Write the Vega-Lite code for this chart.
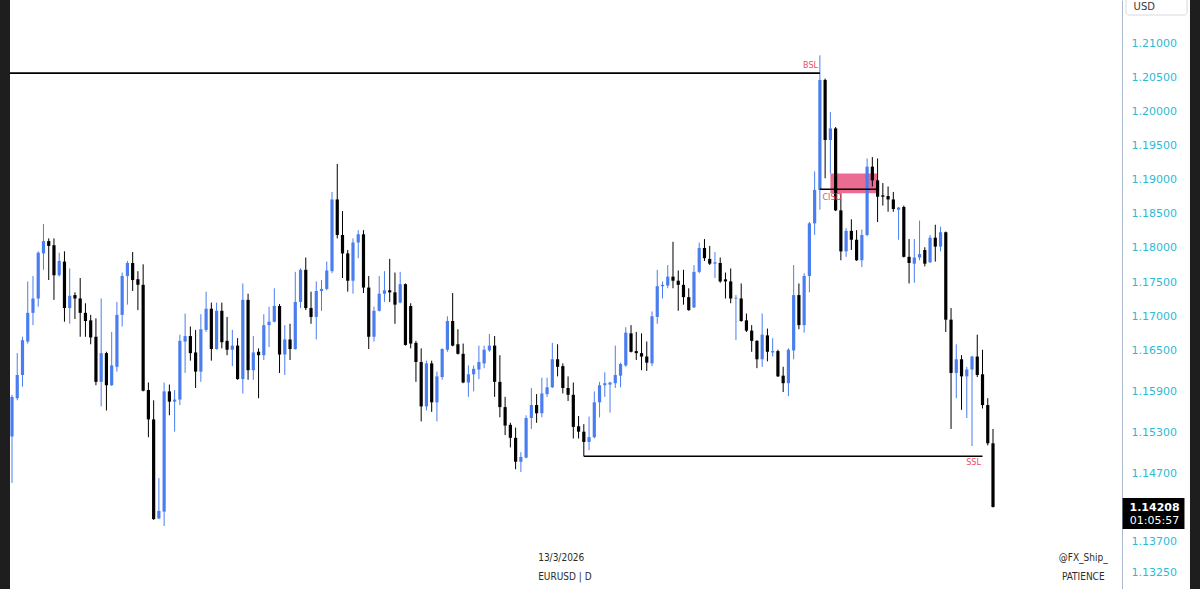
{
  "$schema": "https://vega.github.io/schema/vega-lite/v6.json",
  "width": 1112,
  "height": 589,
  "autosize": {"type": "none"},
  "padding": {"left": 10, "right": 78, "top": 0, "bottom": 0},
  "background": "#ffffff",
  "config": {"view": {"fill": "#ffffff", "stroke": null}},
  "datasets": {
    "candles": [
      {"d":0,"o":1.1524,"h":1.1585,"l":1.1456,"c":1.1582},
      {"d":1,"o":1.1580,"h":1.1646,"l":1.1577,"c":1.1614},
      {"d":2,"o":1.1614,"h":1.1670,"l":1.1597,"c":1.1665},
      {"d":3,"o":1.1663,"h":1.1751,"l":1.1660,"c":1.1705},
      {"d":4,"o":1.1705,"h":1.1759,"l":1.1687,"c":1.1726},
      {"d":5,"o":1.1726,"h":1.1795,"l":1.1714,"c":1.1793},
      {"d":6,"o":1.1792,"h":1.1835,"l":1.1768,"c":1.1810},
      {"d":7,"o":1.1810,"h":1.1814,"l":1.1753,"c":1.1803},
      {"d":8,"o":1.1804,"h":1.1814,"l":1.1724,"c":1.1760},
      {"d":9,"o":1.1760,"h":1.1793,"l":1.1758,"c":1.1781},
      {"d":10,"o":1.1780,"h":1.1795,"l":1.1692,"c":1.1712},
      {"d":11,"o":1.1712,"h":1.1770,"l":1.1689,"c":1.1730},
      {"d":12,"o":1.1731,"h":1.1735,"l":1.1696,"c":1.1726},
      {"d":13,"o":1.1726,"h":1.1756,"l":1.1670,"c":1.1705},
      {"d":14,"o":1.1705,"h":1.1719,"l":1.1670,"c":1.1693},
      {"d":15,"o":1.1694,"h":1.1702,"l":1.1659,"c":1.1669},
      {"d":16,"o":1.1670,"h":1.1697,"l":1.1599,"c":1.1604},
      {"d":17,"o":1.1604,"h":1.1726,"l":1.1568,"c":1.1646},
      {"d":18,"o":1.1646,"h":1.1648,"l":1.1562,"c":1.1599},
      {"d":19,"o":1.1599,"h":1.1677,"l":1.1598,"c":1.1628},
      {"d":20,"o":1.1626,"h":1.1721,"l":1.1619,"c":1.1702},
      {"d":21,"o":1.1702,"h":1.1764,"l":1.1685,"c":1.1759},
      {"d":22,"o":1.1759,"h":1.1781,"l":1.1717,"c":1.1778},
      {"d":23,"o":1.1778,"h":1.1794,"l":1.1737,"c":1.1753},
      {"d":24,"o":1.1754,"h":1.1766,"l":1.1709,"c":1.1746},
      {"d":25,"o":1.1746,"h":1.1776,"l":1.1590,"c":1.1591},
      {"d":26,"o":1.1592,"h":1.1603,"l":1.1523,"c":1.1549},
      {"d":27,"o":1.1549,"h":1.1577,"l":1.1402,"c":1.1403},
      {"d":28,"o":1.1404,"h":1.1463,"l":1.1403,"c":1.1415},
      {"d":29,"o":1.1414,"h":1.1603,"l":1.1393,"c":1.1590},
      {"d":30,"o":1.1590,"h":1.1600,"l":1.1555,"c":1.1575},
      {"d":31,"o":1.1575,"h":1.1592,"l":1.1531,"c":1.1578},
      {"d":32,"o":1.1578,"h":1.1673,"l":1.1570,"c":1.1664},
      {"d":33,"o":1.1663,"h":1.1704,"l":1.1617,"c":1.1671},
      {"d":34,"o":1.1671,"h":1.1685,"l":1.1635,"c":1.1646},
      {"d":35,"o":1.1647,"h":1.1680,"l":1.1595,"c":1.1619},
      {"d":36,"o":1.1619,"h":1.1703,"l":1.1604,"c":1.1681},
      {"d":37,"o":1.1680,"h":1.1736,"l":1.1677,"c":1.1711},
      {"d":38,"o":1.1711,"h":1.1720,"l":1.1635,"c":1.1652},
      {"d":39,"o":1.1652,"h":1.1720,"l":1.1651,"c":1.1708},
      {"d":40,"o":1.1708,"h":1.1720,"l":1.1653,"c":1.1662},
      {"d":41,"o":1.1664,"h":1.1699,"l":1.1643,"c":1.1651},
      {"d":42,"o":1.1651,"h":1.1680,"l":1.1627,"c":1.1657},
      {"d":43,"o":1.1657,"h":1.1668,"l":1.1607,"c":1.1608},
      {"d":44,"o":1.1608,"h":1.1748,"l":1.1587,"c":1.1724},
      {"d":45,"o":1.1724,"h":1.1733,"l":1.1607,"c":1.1621},
      {"d":46,"o":1.1621,"h":1.1671,"l":1.1607,"c":1.1647},
      {"d":47,"o":1.1648,"h":1.1653,"l":1.1580,"c":1.1643},
      {"d":48,"o":1.1643,"h":1.1703,"l":1.1636,"c":1.1687},
      {"d":49,"o":1.1687,"h":1.1714,"l":1.1655,"c":1.1692},
      {"d":50,"o":1.1692,"h":1.1741,"l":1.1691,"c":1.1715},
      {"d":51,"o":1.1715,"h":1.1718,"l":1.1617,"c":1.1644},
      {"d":52,"o":1.1644,"h":1.1687,"l":1.1614,"c":1.1666},
      {"d":53,"o":1.1666,"h":1.1689,"l":1.1636,"c":1.1652},
      {"d":54,"o":1.1652,"h":1.1765,"l":1.1651,"c":1.1721},
      {"d":55,"o":1.1721,"h":1.1770,"l":1.1712,"c":1.1768},
      {"d":56,"o":1.1768,"h":1.1786,"l":1.1709,"c":1.1712},
      {"d":57,"o":1.1712,"h":1.1736,"l":1.1689,"c":1.1699},
      {"d":58,"o":1.1699,"h":1.1751,"l":1.1666,"c":1.1737},
      {"d":59,"o":1.1737,"h":1.1753,"l":1.1708,"c":1.1740},
      {"d":60,"o":1.1740,"h":1.1780,"l":1.1738,"c":1.1767},
      {"d":61,"o":1.1766,"h":1.1882,"l":1.1763,"c":1.1871},
      {"d":62,"o":1.1871,"h":1.1923,"l":1.1814,"c":1.1819},
      {"d":63,"o":1.1819,"h":1.1854,"l":1.1756,"c":1.1792},
      {"d":64,"o":1.1792,"h":1.1797,"l":1.1736,"c":1.1752},
      {"d":65,"o":1.1752,"h":1.1814,"l":1.1733,"c":1.1808},
      {"d":66,"o":1.1808,"h":1.1826,"l":1.1785,"c":1.1820},
      {"d":67,"o":1.1820,"h":1.1826,"l":1.1734,"c":1.1742},
      {"d":68,"o":1.1742,"h":1.1759,"l":1.1652,"c":1.1670},
      {"d":69,"o":1.1670,"h":1.1714,"l":1.1663,"c":1.1708},
      {"d":70,"o":1.1708,"h":1.1759,"l":1.1707,"c":1.1733},
      {"d":71,"o":1.1733,"h":1.1766,"l":1.1721,"c":1.1738},
      {"d":72,"o":1.1738,"h":1.1784,"l":1.1721,"c":1.1735},
      {"d":73,"o":1.1735,"h":1.1764,"l":1.1689,"c":1.1717},
      {"d":74,"o":1.1720,"h":1.1765,"l":1.1719,"c":1.1747},
      {"d":75,"o":1.1747,"h":1.1748,"l":1.1657,"c":1.1658},
      {"d":76,"o":1.1715,"h":1.1719,"l":1.1653,"c":1.1660},
      {"d":77,"o":1.1661,"h":1.1664,"l":1.1604,"c":1.1633},
      {"d":78,"o":1.1633,"h":1.1653,"l":1.1546,"c":1.1568},
      {"d":79,"o":1.1568,"h":1.1635,"l":1.1562,"c":1.1631},
      {"d":80,"o":1.1631,"h":1.1635,"l":1.1560,"c":1.1574},
      {"d":81,"o":1.1574,"h":1.1619,"l":1.1546,"c":1.1612},
      {"d":82,"o":1.1611,"h":1.1653,"l":1.1607,"c":1.1652},
      {"d":83,"o":1.1651,"h":1.1700,"l":1.1648,"c":1.1693},
      {"d":84,"o":1.1693,"h":1.1734,"l":1.1656,"c":1.1657},
      {"d":85,"o":1.1659,"h":1.1681,"l":1.1644,"c":1.1645},
      {"d":86,"o":1.1645,"h":1.1660,"l":1.1602,"c":1.1603},
      {"d":87,"o":1.1603,"h":1.1628,"l":1.1582,"c":1.1615},
      {"d":88,"o":1.1615,"h":1.1628,"l":1.1590,"c":1.1623},
      {"d":89,"o":1.1622,"h":1.1657,"l":1.1608,"c":1.1633},
      {"d":90,"o":1.1631,"h":1.1657,"l":1.1624,"c":1.1651},
      {"d":91,"o":1.1650,"h":1.1674,"l":1.1648,"c":1.1657},
      {"d":92,"o":1.1657,"h":1.1671,"l":1.1582,"c":1.1604},
      {"d":93,"o":1.1604,"h":1.1643,"l":1.1552,"c":1.1567},
      {"d":94,"o":1.1567,"h":1.1582,"l":1.1526,"c":1.1540},
      {"d":95,"o":1.1541,"h":1.1544,"l":1.1508,"c":1.1522},
      {"d":96,"o":1.1522,"h":1.1537,"l":1.1476,"c":1.1487},
      {"d":97,"o":1.1487,"h":1.1501,"l":1.1472,"c":1.1494},
      {"d":98,"o":1.1493,"h":1.1555,"l":1.1492,"c":1.1551},
      {"d":99,"o":1.1551,"h":1.1595,"l":1.1535,"c":1.1570},
      {"d":100,"o":1.1570,"h":1.1586,"l":1.1544,"c":1.1558},
      {"d":101,"o":1.1558,"h":1.1610,"l":1.1552,"c":1.1587},
      {"d":102,"o":1.1586,"h":1.1610,"l":1.1582,"c":1.1596},
      {"d":103,"o":1.1596,"h":1.1661,"l":1.1595,"c":1.1637},
      {"d":104,"o":1.1637,"h":1.1659,"l":1.1612,"c":1.1626},
      {"d":105,"o":1.1627,"h":1.1631,"l":1.1587,"c":1.1595},
      {"d":106,"o":1.1595,"h":1.1612,"l":1.1576,"c":1.1585},
      {"d":107,"o":1.1585,"h":1.1603,"l":1.1521,"c":1.1538},
      {"d":108,"o":1.1539,"h":1.1554,"l":1.1521,"c":1.1531},
      {"d":109,"o":1.1531,"h":1.1542,"l":1.1495,"c":1.1516},
      {"d":110,"o":1.1516,"h":1.1553,"l":1.1504,"c":1.1523},
      {"d":111,"o":1.1523,"h":1.1590,"l":1.1521,"c":1.1574},
      {"d":112,"o":1.1574,"h":1.1604,"l":1.1552,"c":1.1599},
      {"d":113,"o":1.1599,"h":1.1618,"l":1.1582,"c":1.1602},
      {"d":114,"o":1.1600,"h":1.1604,"l":1.1559,"c":1.1603},
      {"d":115,"o":1.1602,"h":1.1657,"l":1.1595,"c":1.1614},
      {"d":116,"o":1.1613,"h":1.1632,"l":1.1596,"c":1.1630},
      {"d":117,"o":1.1628,"h":1.1684,"l":1.1626,"c":1.1676},
      {"d":118,"o":1.1675,"h":1.1687,"l":1.1647,"c":1.1648},
      {"d":119,"o":1.1649,"h":1.1677,"l":1.1636,"c":1.1646},
      {"d":120,"o":1.1646,"h":1.1675,"l":1.1621,"c":1.1641},
      {"d":121,"o":1.1641,"h":1.1663,"l":1.1620,"c":1.1632},
      {"d":122,"o":1.1631,"h":1.1707,"l":1.1627,"c":1.1700},
      {"d":123,"o":1.1699,"h":1.1768,"l":1.1689,"c":1.1744},
      {"d":124,"o":1.1744,"h":1.1751,"l":1.1726,"c":1.1746},
      {"d":125,"o":1.1745,"h":1.1775,"l":1.1741,"c":1.1758},
      {"d":126,"o":1.1758,"h":1.1809,"l":1.1741,"c":1.1752},
      {"d":127,"o":1.1752,"h":1.1767,"l":1.1708,"c":1.1746},
      {"d":128,"o":1.1746,"h":1.1768,"l":1.1717,"c":1.1728},
      {"d":129,"o":1.1728,"h":1.1741,"l":1.1708,"c":1.1709},
      {"d":130,"o":1.1713,"h":1.1775,"l":1.1712,"c":1.1765},
      {"d":131,"o":1.1765,"h":1.1808,"l":1.1763,"c":1.1800},
      {"d":132,"o":1.1800,"h":1.1813,"l":1.1781,"c":1.1785},
      {"d":133,"o":1.1784,"h":1.1803,"l":1.1775,"c":1.1777},
      {"d":134,"o":1.1777,"h":1.1794,"l":1.1756,"c":1.1779},
      {"d":135,"o":1.1778,"h":1.1786,"l":1.1749,"c":1.1751},
      {"d":136,"o":1.1754,"h":1.1764,"l":1.1726,"c":1.1751},
      {"d":137,"o":1.1751,"h":1.1770,"l":1.1719,"c":1.1726},
      {"d":138,"o":1.1726,"h":1.1731,"l":1.1665,"c":1.1727},
      {"d":139,"o":1.1726,"h":1.1748,"l":1.1692,"c":1.1693},
      {"d":140,"o":1.1694,"h":1.1704,"l":1.1677,"c":1.1679},
      {"d":141,"o":1.1679,"h":1.1687,"l":1.1648,"c":1.1664},
      {"d":142,"o":1.1664,"h":1.1665,"l":1.1624,"c":1.1637},
      {"d":143,"o":1.1637,"h":1.1704,"l":1.1626,"c":1.1673},
      {"d":144,"o":1.1672,"h":1.1682,"l":1.1634,"c":1.1648},
      {"d":145,"o":1.1647,"h":1.1668,"l":1.1641,"c":1.1649},
      {"d":146,"o":1.1649,"h":1.1651,"l":1.1611,"c":1.1612},
      {"d":147,"o":1.1613,"h":1.1626,"l":1.1589,"c":1.1602},
      {"d":148,"o":1.1602,"h":1.1653,"l":1.1583,"c":1.1651},
      {"d":149,"o":1.1650,"h":1.1775,"l":1.1637,"c":1.1731},
      {"d":150,"o":1.1731,"h":1.1748,"l":1.1681,"c":1.1687},
      {"d":151,"o":1.1687,"h":1.1763,"l":1.1676,"c":1.1759},
      {"d":152,"o":1.1759,"h":1.1838,"l":1.1735,"c":1.1836},
      {"d":153,"o":1.1836,"h":1.1912,"l":1.1819,"c":1.1885},
      {"d":154,"o":1.1885,"h":1.2082,"l":1.1856,"c":1.2046},
      {"d":155,"o":1.2046,"h":1.2048,"l":1.1902,"c":1.1958},
      {"d":156,"o":1.1958,"h":1.1999,"l":1.1909,"c":1.1975},
      {"d":157,"o":1.1975,"h":1.1977,"l":1.1854,"c":1.1855},
      {"d":158,"o":1.1855,"h":1.1880,"l":1.1782,"c":1.1795},
      {"d":159,"o":1.1795,"h":1.1829,"l":1.1787,"c":1.1825},
      {"d":160,"o":1.1825,"h":1.1842,"l":1.1797,"c":1.1812},
      {"d":161,"o":1.1812,"h":1.1826,"l":1.1781,"c":1.1782},
      {"d":162,"o":1.1782,"h":1.1827,"l":1.1772,"c":1.1819},
      {"d":163,"o":1.1819,"h":1.1931,"l":1.1817,"c":1.1919},
      {"d":164,"o":1.1919,"h":1.1933,"l":1.1890,"c":1.1899},
      {"d":165,"o":1.1899,"h":1.1931,"l":1.1838,"c":1.1875},
      {"d":166,"o":1.1877,"h":1.1895,"l":1.1862,"c":1.1875},
      {"d":167,"o":1.1876,"h":1.1890,"l":1.1853,"c":1.1871},
      {"d":168,"o":1.1871,"h":1.1882,"l":1.1853,"c":1.1857},
      {"d":169,"o":1.1856,"h":1.1860,"l":1.1812,"c":1.1859},
      {"d":170,"o":1.1860,"h":1.1862,"l":1.1786,"c":1.1787},
      {"d":171,"o":1.1787,"h":1.1813,"l":1.1748,"c":1.1778},
      {"d":172,"o":1.1777,"h":1.1813,"l":1.1749,"c":1.1786},
      {"d":173,"o":1.1786,"h":1.1840,"l":1.1782,"c":1.1791},
      {"d":174,"o":1.1797,"h":1.1801,"l":1.1773,"c":1.1777},
      {"d":175,"o":1.1779,"h":1.1819,"l":1.1778,"c":1.1815},
      {"d":176,"o":1.1815,"h":1.1834,"l":1.1780,"c":1.1802},
      {"d":177,"o":1.1802,"h":1.1831,"l":1.1795,"c":1.1823},
      {"d":178,"o":1.1823,"h":1.1824,"l":1.1677,"c":1.1695},
      {"d":179,"o":1.1695,"h":1.1712,"l":1.1535,"c":1.1617},
      {"d":180,"o":1.1617,"h":1.1659,"l":1.1580,"c":1.1637},
      {"d":181,"o":1.1637,"h":1.1643,"l":1.1563,"c":1.1612},
      {"d":182,"o":1.1612,"h":1.1626,"l":1.1551,"c":1.1622},
      {"d":183,"o":1.1622,"h":1.1642,"l":1.1510,"c":1.1641},
      {"d":184,"o":1.1641,"h":1.1673,"l":1.1611,"c":1.1614},
      {"d":185,"o":1.1615,"h":1.1651,"l":1.1565,"c":1.1570},
      {"d":186,"o":1.1570,"h":1.1580,"l":1.1511,"c":1.1514},
      {"d":187,"o":1.1514,"h":1.1535,"l":1.1420,"c":1.14208}
    ],
    "frame": [
      {"x1":-2.8,"x2":-0.381,"top":1.2180,"bottom":1.1290},
      {"x1":224.55,"x2":227.0,"top":1.2180,"bottom":1.1290}
    ],
    "zones": [{"x1":156,"x2":165,"top":1.1909,"bottom":1.1880}],
    "levels": [
      {"name":"BSL","x1":-0.4,"x2":154,"p":1.2056},
      {"name":"CISD","x1":154,"x2":165,"p":1.1886},
      {"name":"SSL","x1":109,"x2":185,"p":1.1495}
    ],
    "tags": [
      {"t":"BSL","x":150.8,"p":1.2066},
      {"t":"CISD","x":154.5,"p":1.1873},
      {"t":"SSL","x":181.9,"p":1.1485}
    ],
    "footer_left": [
      {"t":"13/3/2026","x":100.3,"p":1.1346},
      {"t":"EURUSD | D","x":100.3,"p":1.1318}
    ],
    "footer_right": [
      {"t":"@FX_Ship_","x":204.2,"p":1.1346},
      {"t":"PATIENCE","x":204.2,"p":1.1318}
    ],
    "usd": [{"x1":212.35,"x2":224.0,"top":1.2175,"bottom":1.2141,"t":"USD","tx":213.8,"tp":1.21525}],
    "last": [{"x1":211.7,"x2":223.5,"top":1.14339,"bottom":1.13885,"tx":217.8,"p1":1.1420,"p2":1.1400,"price":"1.14208","timer":"01:05:57"}]
  },
  "layer": [
    {
      "data": {"name": "zones"},
      "mark": {"type": "rect", "color": "#ec6b93"},
      "encoding": {
        "x": {"field": "x1", "type": "quantitative", "scale": {"domain": [-0.381, 211.59], "nice": false, "zero": false, "padding": 0}, "axis": null},
        "x2": {"field": "x2"},
        "y": {"field": "top", "type": "quantitative", "title": null, "scale": {"domain": [1.13007, 1.2163], "nice": false, "zero": false},
          "axis": {"orient": "right", "values": [1.21, 1.205, 1.2, 1.195, 1.19, 1.185, 1.18, 1.175, 1.17, 1.165, 1.159, 1.153, 1.147, 1.137, 1.1325],
            "format": ".5f", "grid": false, "ticks": false, "domain": true, "domainColor": "#a9b7cf", "domainWidth": 1,
            "labelColor": "#2bbbd3", "labelFont": "DejaVu Sans", "labelFontSize": 11, "labelPadding": 9, "labelAlign": "left",
            "labelOverlap": false, "labelBound": false, "labelFlush": false, "title": null}},
        "y2": {"field": "bottom"}
      }
    },
    {
      "data": {"name": "frame"},
      "mark": {"type": "rect", "fill": "#1e1e1e"},
      "encoding": {
        "x": {"field": "x1", "type": "quantitative", "axis": null},
        "x2": {"field": "x2"},
        "y": {"field": "top", "type": "quantitative", "title": null},
        "y2": {"field": "bottom"}
      }
    },
    {
      "data": {"name": "candles"},
      "mark": {"type": "rule", "strokeWidth": 1},
      "encoding": {
        "x": {"field": "d", "type": "quantitative", "axis": null},
        "y": {"field": "l", "type": "quantitative", "title": null},
        "y2": {"field": "h"},
        "color": {"condition": {"test": "datum.c >= datum.o", "value": "#4a7ef0"}, "value": "#000000"}
      }
    },
    {
      "data": {"name": "candles"},
      "mark": {"type": "bar", "width": 3.2},
      "encoding": {
        "x": {"field": "d", "type": "quantitative", "axis": null},
        "y": {"field": "o", "type": "quantitative", "title": null},
        "y2": {"field": "c"},
        "color": {"condition": {"test": "datum.c >= datum.o", "value": "#4a7ef0"}, "value": "#000000"}
      }
    },
    {
      "data": {"name": "levels"},
      "mark": {"type": "rule", "color": "#000000", "strokeWidth": 1.6},
      "encoding": {
        "x": {"field": "x1", "type": "quantitative", "axis": null},
        "x2": {"field": "x2"},
        "y": {"field": "p", "type": "quantitative", "title": null}
      }
    },
    {
      "data": {"name": "tags"},
      "mark": {"type": "text", "align": "left", "baseline": "middle", "color": "#ee4a62", "font": "DejaVu Sans", "fontSize": 8},
      "encoding": {
        "x": {"field": "x", "type": "quantitative", "axis": null},
        "y": {"field": "p", "type": "quantitative", "title": null},
        "text": {"field": "t"}
      }
    },
    {
      "data": {"name": "footer_left"},
      "mark": {"type": "text", "align": "left", "baseline": "middle", "color": "#2b2b2b", "font": "DejaVu Sans Condensed, DejaVu Sans", "fontSize": 10},
      "encoding": {
        "x": {"field": "x", "type": "quantitative", "axis": null},
        "y": {"field": "p", "type": "quantitative", "title": null},
        "text": {"field": "t"}
      }
    },
    {
      "data": {"name": "footer_right"},
      "mark": {"type": "text", "align": "center", "baseline": "middle", "color": "#2b2b2b", "font": "DejaVu Sans Condensed, DejaVu Sans", "fontSize": 10},
      "encoding": {
        "x": {"field": "x", "type": "quantitative", "axis": null},
        "y": {"field": "p", "type": "quantitative", "title": null},
        "text": {"field": "t"}
      }
    },
    {
      "data": {"name": "usd"},
      "mark": {"type": "rect", "fill": "#ffffff", "stroke": "#d6dae1", "strokeWidth": 1, "cornerRadius": 3},
      "encoding": {
        "x": {"field": "x1", "type": "quantitative", "axis": null},
        "x2": {"field": "x2"},
        "y": {"field": "top", "type": "quantitative", "title": null},
        "y2": {"field": "bottom"}
      }
    },
    {
      "data": {"name": "usd"},
      "mark": {"type": "text", "align": "left", "baseline": "middle", "color": "#3a3a3a", "font": "DejaVu Sans", "fontSize": 10},
      "encoding": {
        "x": {"field": "tx", "type": "quantitative", "axis": null},
        "y": {"field": "tp", "type": "quantitative", "title": null},
        "text": {"field": "t"}
      }
    },
    {
      "data": {"name": "last"},
      "mark": {"type": "rect", "fill": "#000000"},
      "encoding": {
        "x": {"field": "x1", "type": "quantitative", "axis": null},
        "x2": {"field": "x2"},
        "y": {"field": "top", "type": "quantitative", "title": null},
        "y2": {"field": "bottom"}
      }
    },
    {
      "data": {"name": "last"},
      "mark": {"type": "text", "align": "center", "baseline": "middle", "color": "#ffffff", "font": "DejaVu Sans", "fontSize": 11, "fontWeight": "bold"},
      "encoding": {
        "x": {"field": "tx", "type": "quantitative", "axis": null},
        "y": {"field": "p1", "type": "quantitative", "title": null},
        "text": {"field": "price"}
      }
    },
    {
      "data": {"name": "last"},
      "mark": {"type": "text", "align": "center", "baseline": "middle", "color": "#ffffff", "font": "DejaVu Sans", "fontSize": 11},
      "encoding": {
        "x": {"field": "tx", "type": "quantitative", "axis": null},
        "y": {"field": "p2", "type": "quantitative", "title": null},
        "text": {"field": "timer"}
      }
    }
  ]
}
